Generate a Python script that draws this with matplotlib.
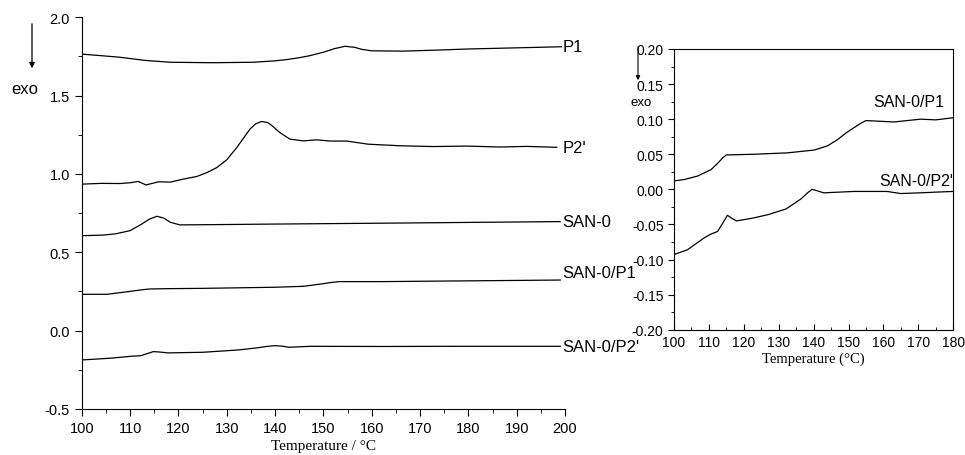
import matplotlib
matplotlib.use("Agg")
import matplotlib.pyplot as plt
from matplotlib.ticker import MultipleLocator, FormatStrFormatter

plt.rcParams["font.family"] = ["Liberation Sans", "DejaVu Sans"]
plt.rcParams["axes.unicode_minus"] = False

# left panel: DSC traces, stacked
t_p1 = [100, 104, 107.9, 113, 118.3, 127, 135.5, 140, 142.4, 145, 147.2, 150, 152.3, 154.5,
        156.5, 158, 160, 166.5, 173, 180.3, 190, 199.3]
v_p1 = [1.765, 1.755, 1.745, 1.725, 1.713, 1.710, 1.713, 1.722, 1.73, 1.742, 1.755, 1.777, 1.8, 1.815,
        1.808, 1.795, 1.786, 1.784, 1.79, 1.798, 1.805, 1.812]

t_p2 = [100, 104, 107.9, 110, 111.7, 113.3, 115.9, 118.3, 121, 123.8, 126, 127.9, 130, 132.1,
        133.5, 134.8, 136, 137.2, 138.5, 139.5, 141, 143.1, 145.9, 148.6, 151.4, 154.8, 159.3,
        165.9, 172.7, 179.7, 186.6, 192, 198.3]
v_p2 = [0.935, 0.94, 0.939, 0.944, 0.952, 0.93, 0.95, 0.948, 0.967, 0.984, 1.01, 1.04, 1.09, 1.169,
        1.23, 1.286, 1.32, 1.335, 1.328, 1.305, 1.264, 1.222, 1.211, 1.218, 1.21, 1.21, 1.19,
        1.18, 1.175, 1.178, 1.172, 1.176, 1.17]

t_san0 = [100, 104.5, 107, 110, 112.4, 114, 115.6, 117, 118.3, 120.3, 125, 139, 166.5, 199]
v_san0 = [0.606, 0.61, 0.618, 0.638, 0.68, 0.712, 0.73, 0.718, 0.692, 0.675, 0.676, 0.68, 0.687, 0.696]

t_sp1 = [100, 105.2, 109.6, 112, 114, 118, 125.1, 140, 145.9, 149.6, 151.5, 153.3, 162.1, 176.9, 199]
v_sp1 = [0.232, 0.232, 0.249, 0.259, 0.266, 0.268, 0.27, 0.277, 0.283, 0.298, 0.307, 0.313, 0.313, 0.317, 0.323]

t_sp2 = [100, 105.9, 110.4, 112.2, 114.8, 116, 117.8, 125.1, 132.5, 136.2, 138.5, 140, 141.5,
         142.9, 147.3, 162.1, 176.9, 199]
v_sp2 = [-0.187, -0.176, -0.163, -0.16, -0.134, -0.136, -0.142, -0.138, -0.123, -0.11, -0.1, -0.096,
         -0.099, -0.106, -0.1, -0.101, -0.1, -0.1]

left_names = ["P1", "P2'", "SAN-0", "SAN-0/P1", "SAN-0/P2'"]

# right panel: blends, enlarged
t_r1 = [100, 103, 106.8, 110.6, 112.5, 114, 115, 123, 132.6, 140.2, 144, 146.9, 149.2, 151.6,
        153.5, 155, 159, 163, 170.7, 175, 180]
v_r1 = [0.012, 0.014, 0.019, 0.028, 0.037, 0.045, 0.049, 0.05, 0.052, 0.056, 0.062, 0.071, 0.08, 0.088,
        0.094, 0.098, 0.097, 0.096, 0.1, 0.099, 0.102]

t_r2 = [100, 103.9, 108.7, 110.5, 112.5, 114, 115.3, 116.5, 117.9, 122.6, 127, 132.1, 136.3, 138.5,
        139.6, 141, 142.9, 151.5, 161, 165, 170.5, 175, 180]
v_r2 = [-0.093, -0.086, -0.069, -0.064, -0.06, -0.048, -0.037, -0.041, -0.045, -0.041, -0.036, -0.028,
        -0.014, -0.004, 0.0, -0.002, -0.005, -0.003, -0.003, -0.006, -0.005, -0.004, -0.003]

right_names = ["SAN-0/P1", "SAN-0/P2'"]

fig = plt.figure(figsize=(9.65, 4.56), dpi=100)

ax = fig.add_axes([0.0847, 0.1009, 0.5008, 0.859])
for t, v in [(t_p1, v_p1), (t_p2, v_p2), (t_san0, v_san0), (t_sp1, v_sp1), (t_sp2, v_sp2)]:
    ax.plot(t, v, color="black", lw=0.9)
ax.set_xlim(100, 200)
ax.set_ylim(-0.5, 2.0)
ax.spines["top"].set_visible(False)
ax.spines["right"].set_visible(False)
ax.xaxis.set_major_locator(MultipleLocator(10))
ax.xaxis.set_minor_locator(MultipleLocator(5))
ax.yaxis.set_major_locator(MultipleLocator(0.5))
ax.yaxis.set_minor_locator(MultipleLocator(0.25))
ax.tick_params(which="both", direction="out", labelsize=10.5)
ax.tick_params(which="major", length=5)
ax.tick_params(which="minor", length=3)
ax.set_xlabel("Temperature / °C", family="Liberation Serif", fontsize=11, labelpad=3)

ends = [v_p1[-1], v_p2[-1], v_san0[-1], v_sp1[-1] + 0.05, v_sp2[-1]]
for name, y in zip(left_names, ends):
    ax.text(199.5, y, name, fontsize=12, va="center", ha="left", clip_on=False)

ax.annotate("", xy=(32 / 965, 1 - 72 / 456), xytext=(32 / 965, 1 - 22 / 456),
            xycoords="figure fraction", textcoords="figure fraction",
            arrowprops=dict(arrowstyle="-|>", color="black", lw=0.9, mutation_scale=8))
fig.text(25 / 965, 1 - 90 / 456, "exo", fontsize=12, ha="center", va="center")

ax2 = fig.add_axes([0.6984, 0.2748, 0.2894, 0.6156])
ax2.plot(t_r1, v_r1, color="black", lw=0.9)
ax2.plot(t_r2, v_r2, color="black", lw=0.9)
ax2.set_xlim(100, 180)
ax2.set_ylim(-0.2, 0.2)
ax2.xaxis.set_major_locator(MultipleLocator(10))
ax2.xaxis.set_minor_locator(MultipleLocator(5))
ax2.yaxis.set_major_locator(MultipleLocator(0.05))
ax2.yaxis.set_minor_locator(MultipleLocator(0.025))
ax2.yaxis.set_major_formatter(FormatStrFormatter("%.2f"))
ax2.tick_params(axis="x", which="both", direction="in", labelsize=10)
ax2.tick_params(axis="y", which="both", direction="out", labelsize=10)
ax2.tick_params(which="major", length=4)
ax2.tick_params(which="minor", length=2)
ax2.set_xlabel("Temperature (°C)", family="Liberation Serif", fontsize=10.5, labelpad=2)
ax2.text(177.5, 0.125, right_names[0], fontsize=11.5, ha="right", va="center")
ax2.text(180, 0.012, right_names[1], fontsize=11.5, ha="right", va="center")

ax2.annotate("", xy=(638 / 965, 1 - 84 / 456), xytext=(638 / 965, 1 - 45 / 456),
             xycoords="figure fraction", textcoords="figure fraction",
             arrowprops=dict(arrowstyle="-|>", color="black", lw=0.8, mutation_scale=6))
fig.text(641 / 965, 1 - 103 / 456, "exo", fontsize=9.5, ha="center", va="center")

fig.savefig("out.png", dpi=100)
